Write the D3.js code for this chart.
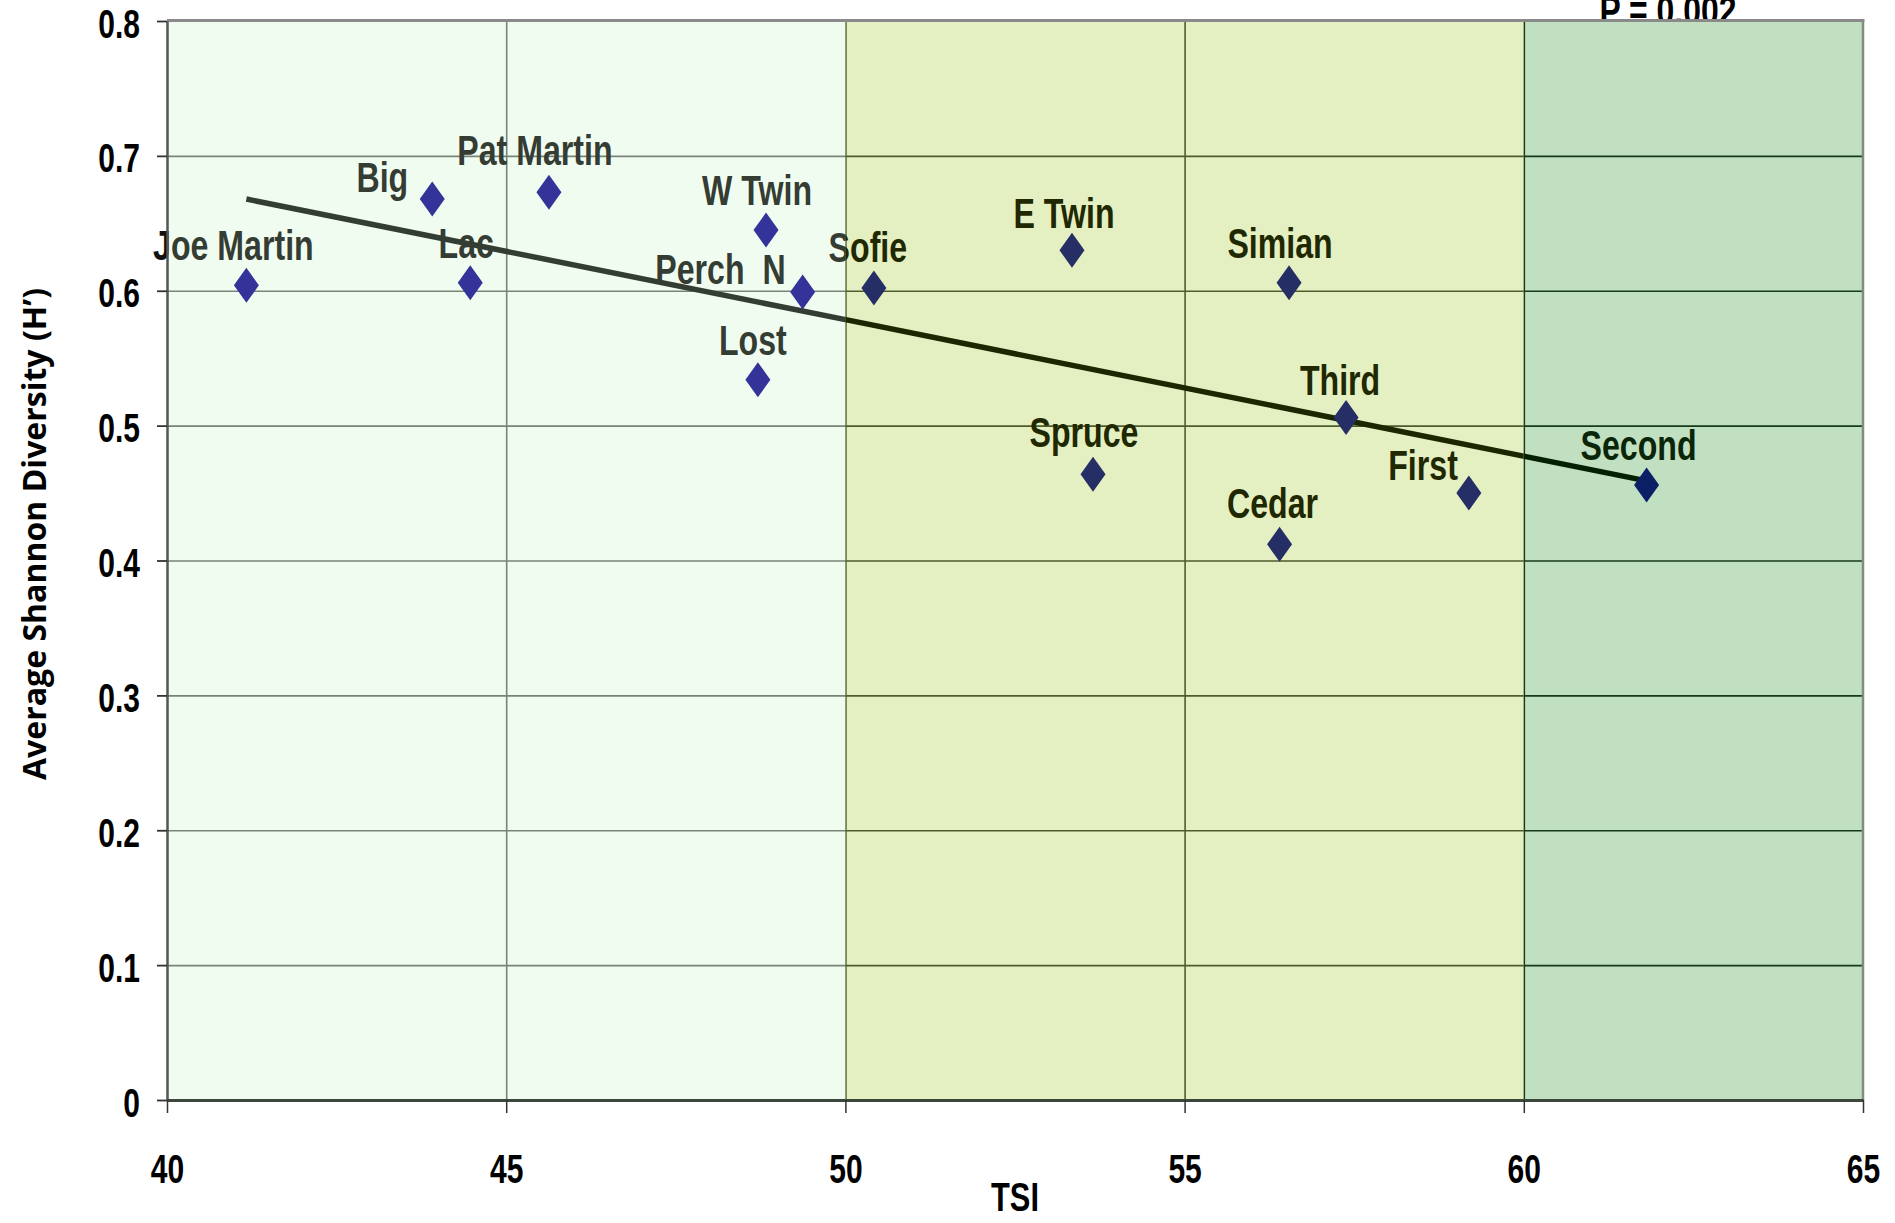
<!DOCTYPE html>
<html>
<head>
<meta charset="utf-8">
<script src="https://cdn.jsdelivr.net/npm/d3@7"></script>
<style>
  html, body { margin: 0; padding: 0; background: #fff; }
  svg { display: block; }
  text { white-space: pre; }
</style>
</head>
<body>
<script>
// ---------- data ----------
const lakes   = ["Joe Martin","Big","Lac","Pat Martin","W Twin","Perch  N","Lost","Sofie","E Twin","Spruce","Simian","Cedar","Third","First","Second"];
const tsi     = [41.17, 43.91, 44.47, 45.63, 48.83, 49.37, 48.71, 50.42, 53.34, 53.65, 56.54, 56.40, 57.38, 59.19, 61.81];
const shannon = [0.604, 0.668, 0.606, 0.673, 0.645, 0.599, 0.534, 0.602, 0.630, 0.464, 0.606, 0.412, 0.506, 0.450, 0.456];
const trendX  = [41.17, 61.81];
const trendY  = [0.668, 0.459];
const bandEdges = [40, 50, 60, 65];
const xTicks = [40, 45, 50, 55, 60, 65];
const yTicks = [0, 0.1, 0.2, 0.3, 0.4, 0.5, 0.6, 0.7, 0.8];
const yTickLabels = ["0","0.1","0.2","0.3","0.4","0.5","0.6","0.7","0.8"];
const titleText = "P = 0.002";
const xTitle = "TSI";
const yTitle = "Average Shannon Diversity (H\u2019)";

// ---------- layout / style (not data) ----------
const W = 1895, H = 1223;
const plot = {left: 167, right: 1863, top: 21, bottom: 1100};
const bandFill = ["#F1FCF1", "#E4F0C2", "#C1DFC1"];
const palettes = [
  {label: "#343C34", marker: "#333399", grid: "#788478", trend: "#333D33"},
  {label: "#1F2800", marker: "#262E66", grid: "#4E5C2C", trend: "#1C2600"},
  {label: "#0A2608", marker: "#0A1F66", grid: "#163A18", trend: "#032003"}
];
// label offsets in px relative to marker: [dx, dy, anchor]
const labelOffsets = {
  "Joe Martin": [-13, -25, "middle"],
  "Big": [-24, -7, "end"],
  "Lac": [-4, -25, "middle"],
  "Pat Martin": [-14, -27, "middle"],
  "W Twin": [-9, -25, "middle"],
  "Perch  N": [-17, -8, "end"],
  "Lost": [-5, -25, "middle"],
  "Sofie": [-6, -26, "middle"],
  "E Twin": [-8, -22, "middle"],
  "Spruce": [-9, -27, "middle"],
  "Simian": [-9, -25, "middle"],
  "Cedar": [-7, -26, "middle"],
  "Third": [-6, -23, "middle"],
  "First": [-11, -13, "end"],
  "Second": [-8, -25, "middle"]
};
const FONT = "'Liberation Sans', Arial, sans-serif";

const x = d3.scaleLinear().domain([40, 65]).range([plot.left, plot.right]);
const y = d3.scaleLinear().domain([0, 0.8]).range([plot.bottom, plot.top]);

const svg = d3.select("body").append("svg").attr("width", W).attr("height", H);
svg.append("rect").attr("width", W).attr("height", H).attr("fill", "#fff");

function narrow(sel, factor) {
  sel.each(function () {
    const len = this.getComputedTextLength();
    d3.select(this).attr("textLength", len * factor).attr("lengthAdjust", "spacingAndGlyphs");
  });
}

const points = lakes.map((name, i) => ({name, x: tsi[i], y: shannon[i]}));
const diamond = "M0,-17.5L12.5,0L0,17.5L-12.5,0Z";

// title (partly hidden under plot, clipped by window top as in the original)
svg.append("text")
  .attr("x", 1668).attr("y", 25)
  .attr("text-anchor", "middle")
  .attr("font-family", FONT).attr("font-weight", "bold").attr("font-size", 42)
  .attr("fill", "#000")
  .text(titleText)
  .call(narrow, 0.76);

function drawLabels(g, color) {
  g.selectAll("text.lbl").data(points).join("text")
    .attr("class", "lbl")
    .attr("x", d => x(d.x) + labelOffsets[d.name][0])
    .attr("y", d => y(d.y) + labelOffsets[d.name][1])
    .attr("text-anchor", d => labelOffsets[d.name][2])
    .attr("font-family", FONT).attr("font-weight", "bold").attr("font-size", 42)
    .attr("fill", color)
    .text(d => d.name)
    .call(narrow, 0.765);
}
// base labels (parts outside the plot area appear black)
drawLabels(svg.append("g"), "#111");

// bands with clipped marks
const defs = svg.append("defs");
for (let b = 0; b < 3; b++) {
  const x0 = x(bandEdges[b]), x1 = x(bandEdges[b + 1]);
  defs.append("clipPath").attr("id", "clip" + b)
    .append("rect").attr("x", x0).attr("y", plot.top).attr("width", x1 - x0).attr("height", plot.bottom - plot.top);
  svg.append("rect")
    .attr("x", x0).attr("y", plot.top).attr("width", x1 - x0).attr("height", plot.bottom - plot.top)
    .attr("fill", bandFill[b]);
  const pal = palettes[b];
  const g = svg.append("g").attr("clip-path", `url(#clip${b})`);
  g.append("g")
    .attr("transform", `translate(${plot.left},0)`)
    .call(d3.axisLeft(y).tickValues(yTicks.slice(1, -1)).tickSize(-(plot.right - plot.left)).tickFormat(""))
    .call(s => s.select(".domain").remove())
    .call(s => s.selectAll("line").attr("stroke", pal.grid).attr("stroke-width", 1.6));
  g.append("g")
    .attr("transform", `translate(0,${plot.bottom})`)
    .call(d3.axisBottom(x).tickValues(xTicks.slice(1, -1)).tickSize(-(plot.bottom - plot.top)).tickFormat(""))
    .call(s => s.select(".domain").remove())
    .call(s => s.selectAll("line").attr("stroke", pal.grid).attr("stroke-width", 1.6));
  g.append("path")
    .datum(trendX.map((v, i) => [v, trendY[i]]))
    .attr("d", d3.line().x(d => x(d[0])).y(d => y(d[1])))
    .attr("fill", "none").attr("stroke", pal.trend).attr("stroke-width", 5.5);
  g.selectAll("path.pt").data(points).join("path")
    .attr("class", "pt")
    .attr("d", diamond)
    .attr("transform", d => `translate(${x(d.x)},${y(d.y)})`)
    .attr("fill", pal.marker);
  drawLabels(g, pal.label);
}

// frame
svg.append("line").attr("x1", plot.left).attr("x2", plot.right + 1.5).attr("y1", plot.top - 0.5).attr("y2", plot.top - 0.5)
  .attr("stroke", "#8a8a8a").attr("stroke-width", 3);
svg.append("line").attr("x1", plot.right).attr("x2", plot.right).attr("y1", plot.top).attr("y2", plot.bottom)
  .attr("stroke", "#7f8f7f").attr("stroke-width", 2.5);

// y axis
const yAx = svg.append("g").attr("transform", `translate(${plot.left},0)`)
  .call(d3.axisLeft(y).tickValues(yTicks).tickFormat((d, i) => yTickLabels[i]).tickSize(10).tickPadding(17).tickSizeOuter(0));
yAx.select(".domain").attr("stroke", "#555").attr("stroke-width", 2.5);
yAx.selectAll(".tick line").attr("stroke", "#333").attr("stroke-width", 1.8);
yAx.selectAll("text").attr("font-family", FONT).attr("font-weight", "bold").attr("font-size", 40)
  .attr("fill", "#000").attr("dy", "0.4em").call(narrow, 0.75);

// x axis
const xAx = svg.append("g").attr("transform", `translate(0,${plot.bottom})`)
  .call(d3.axisBottom(x).tickValues(xTicks).tickSize(13).tickPadding(42).tickSizeOuter(0));
xAx.select(".domain").attr("stroke", "#3c473c").attr("stroke-width", 3);
xAx.selectAll(".tick line").attr("stroke", "#333").attr("stroke-width", 1.5);
xAx.selectAll("text").attr("font-family", FONT).attr("font-weight", "bold").attr("font-size", 40)
  .attr("fill", "#000").call(narrow, 0.75);

// axis titles
svg.append("text")
  .attr("x", (plot.left + plot.right) / 2).attr("y", 1211)
  .attr("text-anchor", "middle")
  .attr("font-family", FONT).attr("font-weight", "bold").attr("font-size", 40)
  .attr("fill", "#000")
  .text(xTitle)
  .call(narrow, 0.77);

svg.append("text")
  .attr("transform", "translate(46,534) rotate(-90)")
  .attr("text-anchor", "middle")
  .attr("font-family", "'Open Sans', sans-serif").attr("font-weight", "bold").attr("font-size", 32)
  .attr("fill", "#000")
  .attr("textLength", 492).attr("lengthAdjust", "spacingAndGlyphs")
  .text(yTitle);
</script>
</body>
</html>
